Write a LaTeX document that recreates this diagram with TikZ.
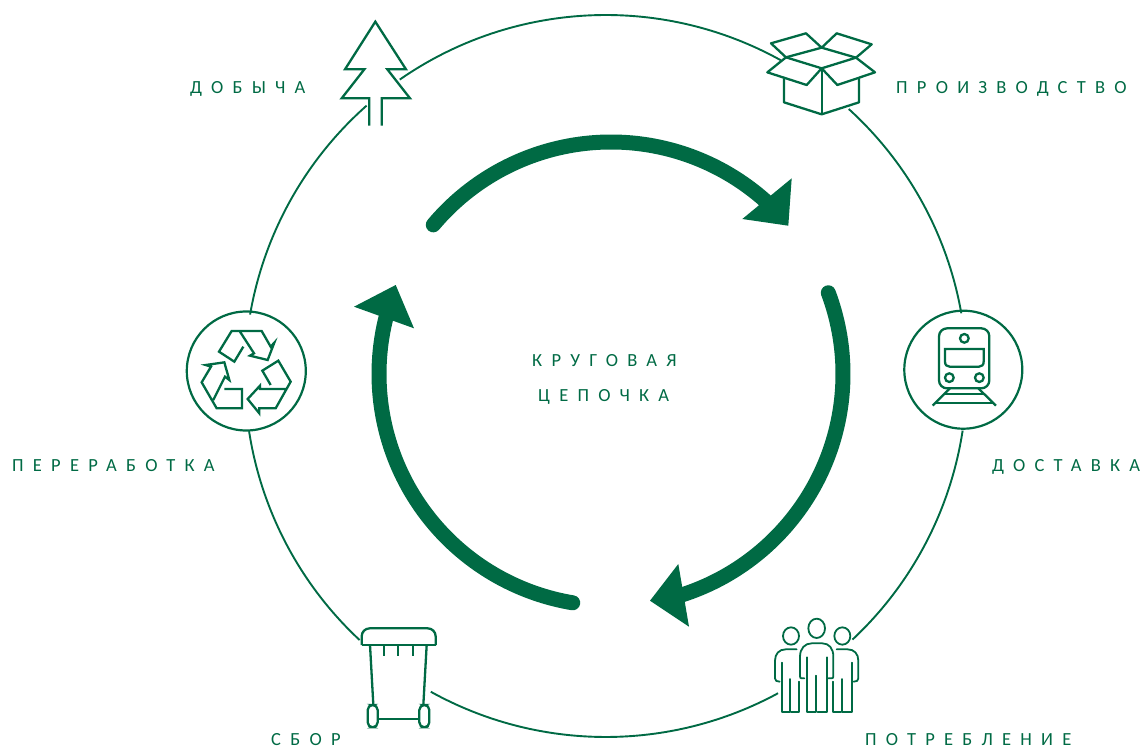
\documentclass[tikz,border=0pt]{standalone}
\usepackage{fontspec}
\setmainfont[LetterSpace=50]{Carlito}
\definecolor{leaf}{HTML}{006A44}
\tikzset{
  ring/.style={draw=leaf,line width=1.9pt},
  icon/.style={draw=leaf,line width=2.3pt,line join=miter},
  thinicon/.style={draw=leaf,line width=1.8pt,line join=round,line cap=round},
  shaft/.style={draw=leaf,line width=15pt,line cap=round},
  head/.style={fill=leaf,draw=none},
  caption/.style={text=leaf,inner sep=0pt,anchor=base west,font=\fontsize{18.5}{22}\selectfont},
  zoomA/.style={shift={(#1)},x=0.33333pt,y=-0.33333pt}
}
\newcommand{\ringarc}[2]{\draw[ring] ([shift={(ringc)}]#1:361) arc[start angle=#1,end angle=#2,radius=361];}
\newcommand{\shaftarc}[2]{\draw[shaft] ([shift={(coilc)}]#1:232) arc[start angle=#1,end angle=#2,radius=232];}
\begin{document}
\begin{tikzpicture}[x=1pt,y=-1pt]
\useasboundingbox (0,0) rectangle (1146,749);
\coordinate (ringc) at (605.8,376);
\coordinate (coilc) at (611,374);
% outer ring
\ringarc{-124.8}{-61}
\ringarc{-47.7}{-10}
\ringarc{8.7}{46.9}
\ringarc{61.5}{119}
\ringarc{133}{171.2}
\ringarc{189.8}{228.5}
% inner arrows
\shaftarc{220}{316}
\shaftarc{-20.5}{74}
\shaftarc{99.5}{196}
\fill[head] (791.7,178.3) -- (788.3,225.7) -- (742.3,219) -- cycle;
\fill[head] (678.3,564) -- (650,600.7) -- (689,626.7) -- cycle;
\fill[head] (354,306.7) -- (395.7,285) -- (414,328.3) -- cycle;
% tree
\begin{scope}[zoomA={330,10}]
\draw[icon] (118,347) -- (118,265) -- (35,265) -- (103,178) -- (45,178) -- (136,35) -- (228,178) -- (172,178) -- (240,265) -- (155,265) -- (155,347);
\end{scope}
% box
\begin{scope}[zoomA={760,25}]
\draw[icon,line join=round] (185,68) -- (138,25) -- (33,55) -- (78,97) -- (185,68) -- (230,25) -- (335,58) -- (288,98) -- (185,68);
\draw[icon,line join=round] (78,97) -- (185,130) -- (288,98);
\draw[icon,line join=round] (78,97) -- (22,142) -- (140,180) -- (185,130) -- (232,180) -- (345,142) -- (288,98);
\draw[icon,line join=round] (72,160) -- (72,232) -- (185,268) -- (297,232) -- (297,160);
\draw[icon] (185,130) -- (185,268);
\end{scope}
% train
\node[circle,draw=leaf,line width=2.2pt,minimum size=118pt,inner sep=0pt] (traincircle) at (963.3,369.7) {};
\begin{scope}[zoomA={895,305}]
\draw[icon,rounded corners=8pt] (132,70) rectangle (283,250);
\draw[icon] (208,100) circle[radius=13];
\draw[icon] (163,218) circle[radius=13];
\draw[icon] (253,218) circle[radius=13];
\draw[icon] (150,132) -- (266,132) -- (266,170) .. controls (266,180) and (260,185) .. (252,185) -- (164,185) .. controls (156,185) and (150,180) .. (150,170) -- cycle;
\draw[icon] (113,302) -- (165,250);
\draw[icon] (303,302) -- (250,250);
\draw[icon] (147,268) -- (268,268);
\draw[icon] (120,295) -- (295,295);
\end{scope}
% people
\begin{scope}[zoomA={765,610}]
\draw[thinicon] (155,55) ellipse[x radius=25,y radius=29];
\draw[thinicon] (78,78) ellipse[x radius=24,y radius=26];
\draw[thinicon] (232,78) ellipse[x radius=24,y radius=26];
\draw[thinicon] (118,205) -- (110,205) .. controls (106,205) and (105,203) .. (105,198) -- (105,140) .. controls (105,115) and (120,100) .. (140,100) -- (172,100) .. controls (192,100) and (205,115) .. (205,140) -- (205,198) .. controls (205,203) and (204,205) .. (200,205) -- (190,205);
\draw[thinicon] (125,142) -- (125,305) -- (152,305) -- (152,197);
\draw[thinicon] (158,305) -- (185,305) -- (185,142);
\draw[thinicon] (95,118) -- (62,118) .. controls (42,118) and (30,132) .. (30,152) -- (30,205) .. controls (30,212) and (35,215) .. (44,215);
\draw[thinicon] (50,158) -- (50,305) -- (75,305) -- (75,207);
\draw[thinicon] (78,305) -- (103,305) -- (103,215);
\draw[thinicon] (215,118) -- (248,118) .. controls (268,118) and (280,132) .. (280,152) -- (280,205) .. controls (280,212) and (275,215) .. (266,215);
\draw[thinicon] (260,158) -- (260,305) -- (232,305) -- (232,207);
\draw[thinicon] (228,305) -- (205,305) -- (205,215);
\end{scope}
% bin
\begin{scope}[zoomA={350,620}]
\draw[icon,rounded corners=8pt] (35,75) -- (35,25) -- (257,25) -- (257,75);
\draw[icon] (35,75) -- (257,75);
\draw[icon] (103,75) -- (103,107);
\draw[icon] (145,75) -- (145,107);
\draw[icon] (188,75) -- (188,107);
\draw[icon] (60,75) -- (70,255);
\draw[icon] (230,75) -- (220,255);
\draw[icon,rounded corners=5pt] (53,255) rectangle (83,322);
\draw[icon,rounded corners=5pt] (208,255) rectangle (238,322);
\draw[icon] (85,297) -- (208,297);
\end{scope}
% recycling
\node[circle,draw=leaf,line width=2.2pt,minimum size=119pt,inner sep=0pt] (recyclecircle) at (246.3,371) {};
\begin{scope}[zoomA={180,305}]
\draw[icon] (190,125) -- (163,170) -- (117,140) -- (155,78) -- (245,78) -- (272,125) -- (283,113) -- (263,165) -- (210,152) -- (222,145) -- (180,80);
\draw[icon] (272,240) -- (247,197) -- (295,167) -- (332,230) -- (287,310) -- (238,310) -- (238,325) -- (203,282) -- (240,242) -- (240,252) -- (320,252);
\draw[icon] (133,252) -- (186,252) -- (186,310) -- (110,310) -- (65,232) -- (93,185) -- (77,180) -- (133,172) -- (148,225) -- (135,215) -- (100,285);
\end{scope}
% labels
\node[caption] (t1) at (190,93.5) {ДОБЫЧА};
\node[caption] (t2) at (896,93.5) {ПРОИЗВОДСТВО};
\node[caption] (t3) at (992,471) {ДОСТАВКА};
\node[caption] (t4) at (865,745) {ПОТРЕБЛЕНИЕ};
\node[caption] (t5) at (271,745) {СБОР};
\node[caption] (t6) at (12,471) {ПЕРЕРАБОТКА};
\node[caption] (t7) at (532,366) {КРУГОВАЯ};
\node[caption] (t8) at (538,401) {ЦЕПОЧКА};
\end{tikzpicture}
\end{document}
